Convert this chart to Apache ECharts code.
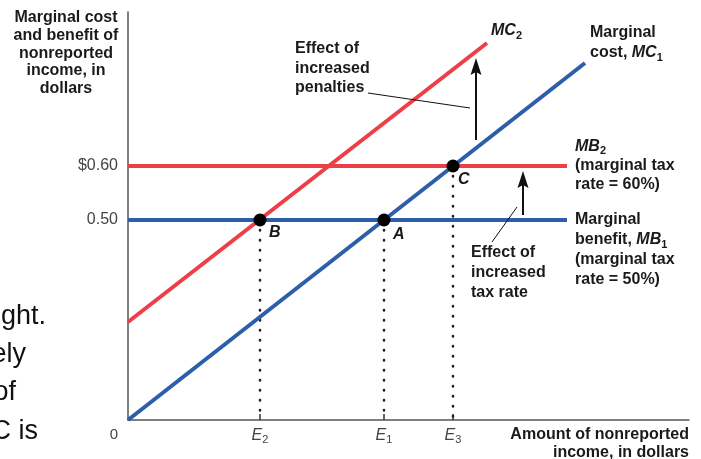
<!DOCTYPE html>
<html><head><meta charset="utf-8">
<script src="https://cdn.jsdelivr.net/npm/echarts@6/dist/echarts.min.js"></script>
<style>html,body{margin:0;padding:0;background:#fff}#c{width:701px;height:459px}</style>
</head><body><div id="c"></div>
<script>
// Schematic diagram: values in abstract units
const mc1Curve = [[0, 0], [457, 357]];
const mc2Curve = [[0, 98], [359, 377]];
const mb1Curve = [[0, 200], [439, 200]];
const mb2Curve = [[0, 254], [439, 254]];
const pointNames = ['B', 'A', 'C'];
const pointX = [132, 256, 325];
const pointY = [200, 200, 254];
const xTickValues = [132, 256, 325];
const xTickNames = ['2', '1', '3'];
const yTickValues = [200, 254];
const yTickLabels = ['0.50', '$0.60'];

const RED = '#ec3f47', BLUE = '#2d5ea9', INK = '#1a1a1a';
const chart = echarts.init(document.getElementById('c'), null, {renderer: 'canvas'});
const FONT = "'Liberation Sans', Arial, sans-serif";

const labelOffsets = [[2.5, 13], [2.5, 15], [-1.5, 14]];

const series = [
  {type: 'line', data: mb1Curve, symbol: 'none', lineStyle: {color: BLUE, width: 4}, z: 2},
  {type: 'line', data: mb2Curve, symbol: 'none', lineStyle: {color: RED, width: 4}, z: 2},
  {type: 'line', data: mc1Curve, symbol: 'none', lineStyle: {color: BLUE, width: 4}, z: 3},
  {type: 'line', data: mc2Curve, symbol: 'none', lineStyle: {color: RED, width: 4}, z: 3}
];
pointX.forEach((x, i) => {
  series.push({type: 'line', data: [[x, pointY[i]], [x, 0]], symbol: 'none',
    lineStyle: {color: '#222', width: 2.6, type: [0.5, 9.5], cap: 'round'}, z: 1});
});
series.push({
  type: 'scatter', symbolSize: 13, itemStyle: {color: '#000', opacity: 1}, z: 5,
  data: pointNames.map((n, i) => ({
    name: n, value: [pointX[i], pointY[i]],
    label: {show: true, formatter: n, position: 'right', distance: 0, offset: labelOffsets[i],
      color: INK, fontSize: 16, fontWeight: 'bold', fontStyle: 'italic', fontFamily: FONT,
      textBorderWidth: 0}
  }))
});

const boldText = (x, y, text, extra) => ({
  type: 'text', x: x, y: y, z: 50,
  style: Object.assign({text: text, fill: INK, fontSize: 16, fontWeight: 'bold', fontFamily: FONT,
    lineHeight: 20, textVerticalAlign: 'top', textAlign: 'left'}, extra || {})
});
const richSub = {
  i: {fontSize: 16, fontWeight: 'bold', fontStyle: 'italic', fontFamily: FONT, fill: INK, lineHeight: 20},
  s: {fontSize: 11, fontWeight: 'bold', fontFamily: FONT, fill: INK, lineHeight: 12, verticalAlign: 'bottom'},
  n: {fontSize: 16, fontWeight: 'bold', fontFamily: FONT, fill: INK, lineHeight: 20}
};

const graphics = [
  // y-axis title
  boldText(66, 9, 'Marginal cost\nand benefit of\nnonreported\nincome, in\ndollars', {textAlign: 'center', lineHeight: 17.7}),
  // x-axis title
  boldText(689, 426, 'Amount of nonreported\nincome, in dollars', {textAlign: 'right', lineHeight: 17.5}),
  // origin label
  {type: 'text', x: 114, y: 435, z: 50, style: {text: '0', fill: '#444', fontSize: 15, fontFamily: FONT, textAlign: 'center', textVerticalAlign: 'middle'}},
  // MC2
  {type: 'text', x: 491, y: 21, z: 50, style: {text: '{i|MC}{s|2}', rich: richSub, textVerticalAlign: 'top'}},
  // Marginal cost MC1
  {type: 'text', x: 590, y: 23, z: 50, style: {text: '{n|Marginal}\n{n|cost, }{i|MC}{s|1}', rich: richSub, textVerticalAlign: 'top'}},
  // Effect of increased penalties
  boldText(295, 39, 'Effect of\nincreased\npenalties', {lineHeight: 19.5}),
  // MB2
  {type: 'text', x: 575, y: 137, z: 50, style: {text: '{i|MB}{s|2}\n{n|(marginal tax}\n{n|rate = 60%)}', rich: {
    i: Object.assign({}, richSub.i, {lineHeight: 19}), s: richSub.s, n: Object.assign({}, richSub.n, {lineHeight: 19})}, textVerticalAlign: 'top'}},
  // MB1
  {type: 'text', x: 575, y: 210, z: 50, style: {text: '{n|Marginal}\n{n|benefit, }{i|MB}{s|1}\n{n|(marginal tax}\n{n|rate = 50%)}', rich: richSub, textVerticalAlign: 'top'}},
  // Effect of increased tax rate
  boldText(471, 243, 'Effect of\nincreased\ntax rate', {lineHeight: 20}),
  // leader lines
  {type: 'line', z: 40, shape: {x1: 368, y1: 93, x2: 470, y2: 108}, style: {stroke: '#111', lineWidth: 1}},
  {type: 'line', z: 40, shape: {x1: 492, y1: 242, x2: 517, y2: 207}, style: {stroke: '#111', lineWidth: 1}},
  // arrows
  {type: 'line', z: 40, shape: {x1: 476, y1: 140, x2: 476, y2: 70}, style: {stroke: '#111', lineWidth: 2}},
  {type: 'polygon', z: 40, shape: {points: [[476, 58], [470.5, 75], [476, 72], [481.5, 75]]}, style: {fill: '#111'}},
  {type: 'line', z: 40, shape: {x1: 523, y1: 215, x2: 523, y2: 182}, style: {stroke: '#111', lineWidth: 2}},
  {type: 'polygon', z: 40, shape: {points: [[523, 171], [517.5, 188], [523, 185], [528.5, 188]]}, style: {fill: '#111'}},
  // cropped slide text at left edge
  {type: 'text', x: 46, y: 317, z: 50, style: {text: 'ght.', fill: '#111', fontSize: 27, fontFamily: FONT, textAlign: 'right', textVerticalAlign: 'middle'}},
  {type: 'text', x: 26, y: 355, z: 50, style: {text: 'ely', fill: '#111', fontSize: 27, fontFamily: FONT, textAlign: 'right', textVerticalAlign: 'middle'}},
  {type: 'text', x: 16, y: 393, z: 50, style: {text: 'of', fill: '#111', fontSize: 27, fontFamily: FONT, textAlign: 'right', textVerticalAlign: 'middle'}},
  {type: 'text', x: 38, y: 432, z: 50, style: {text: 'C is', fill: '#111', fontSize: 27, fontFamily: FONT, textAlign: 'right', textVerticalAlign: 'middle'}}
];

chart.setOption({
  animation: false,
  backgroundColor: '#fff',
  grid: {left: 128, top: 12, right: 12, bottom: 39, containLabel: false},
  xAxis: {
    type: 'value', min: 0, max: 561,
    axisLine: {show: true, lineStyle: {color: '#555', width: 1.5}},
    splitLine: {show: false},
    axisTick: {show: true, inside: true, length: 6, customValues: xTickValues, lineStyle: {color: '#333', width: 1.5}},
    axisLabel: {
      customValues: xTickValues, margin: 6,
      formatter: v => '{e|E}{s|' + xTickNames[xTickValues.indexOf(v)] + '}',
      rich: {
        e: {fontSize: 16, fontStyle: 'italic', color: '#444', fontFamily: FONT, lineHeight: 19},
        s: {fontSize: 11, color: '#444', fontFamily: FONT, lineHeight: 11, verticalAlign: 'bottom'}
      }
    }
  },
  yAxis: {
    type: 'value', min: 0, max: 408,
    axisLine: {show: true, lineStyle: {color: '#555', width: 1.5}},
    splitLine: {show: false},
    axisTick: {show: false},
    axisLabel: {
      customValues: yTickValues, margin: 10, color: '#444', fontSize: 16, fontFamily: FONT,
      formatter: v => yTickLabels[yTickValues.indexOf(v)]
    }
  },
  series: series,
  graphic: graphics
});
</script></body></html>
